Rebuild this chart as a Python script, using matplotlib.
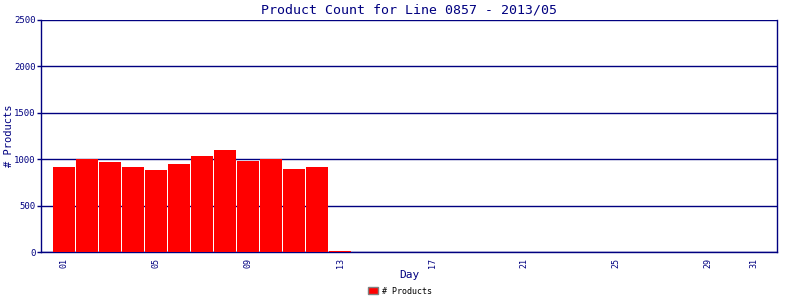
import matplotlib
matplotlib.use("Agg")
import matplotlib.pyplot as plt

days = list(range(1, 32))
counts = [919, 1002, 970, 920, 884, 948, 1036, 1100, 982, 997, 894, 919, 14] + [0] * 18
tick_days = [1, 5, 9, 13, 17, 21, 25, 29, 31]
tick_labels = ["01", "05", "09", "13", "17", "21", "25", "29", "31"]

navy = "#000080"
plt.rcParams["font.family"] = "DejaVu Sans Mono"

fig = plt.figure(figsize=(8, 3), dpi=100)
ax = fig.add_axes([41 / 800, 1 - 252 / 300, 736 / 800, 232 / 300])

ax.bar(days, counts, width=0.96, color="#ff0000", zorder=3, label="# Products")

ax.set_xlim(0, 32)
ax.set_ylim(0, 2500)
ax.set_yticks([0, 500, 1000, 1500, 2000, 2500])
ax.set_xticks(tick_days)
ax.set_xticklabels(tick_labels, rotation=90)
ax.tick_params(axis="x", length=0, labelsize=6, colors=navy, pad=4)
ax.tick_params(axis="y", length=3, width=1, labelsize=6.5, colors=navy, pad=1)
ax.yaxis.grid(True, color=navy, linewidth=1, zorder=1)
for side in ["left", "bottom", "right"]:
    ax.spines[side].set_color(navy)
    ax.spines[side].set_linewidth(1)
    ax.spines[side].set_zorder(2)
ax.spines["top"].set_visible(False)

ax.set_title("Product Count for Line 0857 - 2013/05", color=navy, fontsize=9.5, pad=5)
ax.set_xlabel("Day", color=navy, fontsize=8, labelpad=2)
ax.set_ylabel("# Products", color=navy, fontsize=7.5)
ax.yaxis.set_label_coords(-0.037, 0.5)

leg = fig.legend(loc="lower center", bbox_to_anchor=(0.5, -0.01), frameon=False,
                 fontsize=6, handlelength=1.2, handleheight=0.9, handletextpad=0.4)
for h in leg.legend_handles:
    h.set_edgecolor("gray")
for t in leg.get_texts():
    t.set_color("black")

fig.savefig("out.png", dpi=100)
